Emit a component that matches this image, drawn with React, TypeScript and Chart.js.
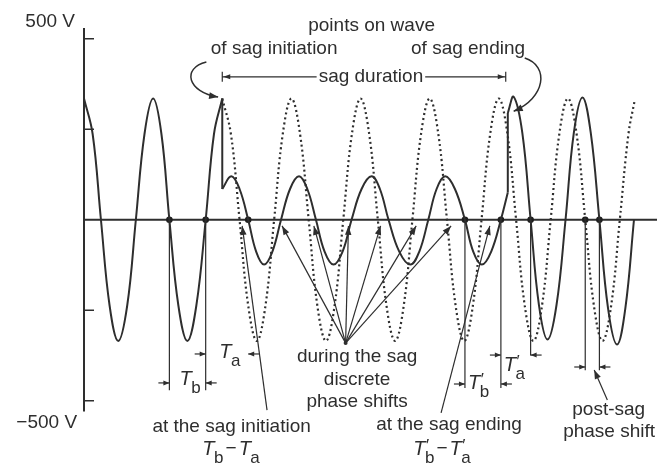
import { useEffect, useRef } from "react";
import { Chart, registerables } from "chart.js";

Chart.register(...registerables);

const INK = "#2e2e2e";
const FONT = "'Liberation Sans', Arial, Helvetica, sans-serif";

// Time axis in ms (one 50 Hz cycle = 20 ms), voltage in V.
// Each waveform is sampled at its peaks, zero crossings, troughs and the
// points half-way between them.

// Supply voltage before the sag.
const preSagTimes = [0, 2.5, 4.9, 7.4, 9.9, 12.5, 15.0, 17.5, 20.0, 22.4, 24.7, 27.3, 29.9, 32.5, 35.2, 37.6, 40.0];
const preSagVolts = [335, 237, 0, -237, -335, -237, 0, 237, 335, 237, 0, -237, -335, -237, 0, 237, 335];

// Reduced voltage during the sag.
const sagTimes = [
  40.0, 42.6, 45.0, 47.5, 49.8, 52.1, 54.5, 57.0, 59.6, 62.2, 64.6, 67.1, 69.6, 72.2, 74.8, 77.4,
  80.3, 83.2, 85.6, 88.1, 91.2, 94.4, 97.0, 99.6, 102.0, 104.5, 107.3, 110.2, 112.6, 115.1, 117.8, 120.6, 122.6,
];
const sagVolts = [
  85, 120, 85, 0, -88, -124, -88, 0, 85, 120, 85, 0, -88, -124, -88, 0,
  85, 120, 85, 0, -88, -124, -88, 0, 85, 120, 85, 0, -88, -124, -88, 0, 75,
];

// Recovered voltage after the sag.
const postSagTimes = [122.6, 124.3, 126.8, 129.2, 131.6, 134.1, 136.7, 139.3, 141.7, 144.2, 146.6, 149.1, 151.6, 154.2, 156.6, 159.1];
const postSagVolts = [295, 340, 240, 0, -235, -331, -235, 0, 240, 338, 240, 0, -245, -345, -245, 0];

// Undisturbed wave continued through and after the sag (dotted).
const refTimes = [
  40, 42.5, 45, 47.5, 50, 52.5, 55, 57.5, 60, 62.5, 65, 67.5, 70, 72.5, 75, 77.5, 80, 82.5, 85, 87.5, 90, 92.5, 95, 97.5,
  100, 102.5, 105, 107.5, 110, 112.5, 115, 117.5, 120, 122.5, 125, 127.5, 130, 132.5, 135, 137.5, 140, 142.5, 145, 147.5,
  150, 152.5, 155, 157.5, 159.2,
];
const refVolts = [
  335, 237, 0, -237, -335, -237, 0, 237, 335, 237, 0, -237, -335, -237, 0, 237, 335, 237, 0, -237, -335, -237, 0, 237,
  335, 237, 0, -237, -335, -237, 0, 237, 335, 237, 0, -237, -335, -237, 0, 237, 335, 237, 0, -237,
  -335, -237, 0, 237, 325,
];

// Abrupt voltage steps at sag initiation and sag ending.
const stepTimes = [40.0, 122.6];
const stepFrom = [335, 75];
const stepTo = [85, 295];

// Zero crossings marked on the time axis.
const markedCrossings = [24.7, 35.2, 47.5, 110.2, 120.6, 129.2, 145.0, 149.1];

// Vertical axis ticks.
const yTicks = [500, 250, -250, -500];
const yTickLabels = ["500 V", "\u2212500 V"];

// Zero crossings pointed at as discrete phase shifts during the sag.
const phaseShiftTargets = [57.3, 66.5, 76.5, 85.8, 96.1, 106.2];

const toPoints = (ts: number[], vs: number[]) => ts.map((t, i) => ({ x: t, y: vs[i] }));

function arrowHead(ctx: CanvasRenderingContext2D, fx: number, fy: number, tx: number, ty: number, len = 8, half = 3) {
  const a = Math.atan2(ty - fy, tx - fx);
  const c = Math.cos(a);
  const s = Math.sin(a);
  ctx.beginPath();
  ctx.moveTo(tx, ty);
  ctx.lineTo(tx - len * c + half * s, ty - len * s - half * c);
  ctx.lineTo(tx - len * c - half * s, ty - len * s + half * c);
  ctx.closePath();
  ctx.fill();
}

function tSymbol(ctx: CanvasRenderingContext2D, px: number, py: number, sub: string, prime: boolean) {
  ctx.textAlign = "left";
  ctx.font = `italic 20px ${FONT}`;
  ctx.fillText("T", px, py);
  const sx = px + ctx.measureText("T").width - 0.5;
  ctx.font = `17px ${FONT}`;
  if (prime) ctx.fillText("\u2032", sx + 1, py - 4);
  ctx.fillText(sub, sx, py + 8);
  return sx + ctx.measureText(sub).width;
}

function tDifference(ctx: CanvasRenderingContext2D, px: number, py: number, prime: boolean) {
  let end = tSymbol(ctx, px, py, "b", prime);
  ctx.font = `19px ${FONT}`;
  ctx.textAlign = "left";
  ctx.fillText("\u2212", end + 2, py - 1);
  end += 4 + ctx.measureText("\u2212").width;
  tSymbol(ctx, end, py, "a", prime);
}

const sagAnnotations = {
  id: "sagAnnotations",
  beforeDatasetsDraw(chart: any) {
    const { ctx, chartArea: area, scales } = chart;
    const x = scales.x;
    const y = scales.y;
    ctx.save();
    ctx.strokeStyle = INK;
    ctx.lineWidth = 2;
    const x0 = x.getPixelForValue(0);
    const y0 = y.getPixelForValue(0);
    ctx.beginPath();
    ctx.moveTo(x0, area.top);
    ctx.lineTo(x0, area.bottom);
    ctx.moveTo(area.left, y0);
    ctx.lineTo(area.right, y0);
    ctx.stroke();
    ctx.lineWidth = 1.5;
    ctx.beginPath();
    for (const v of yTicks) {
      const py = y.getPixelForValue(v);
      ctx.moveTo(x0, py);
      ctx.lineTo(x0 + 10, py);
    }
    ctx.stroke();
    ctx.restore();
  },
  afterDatasetsDraw(chart: any) {
    const { ctx, scales } = chart;
    const x = scales.x;
    const y = scales.y;
    const X = (t: number) => x.getPixelForValue(t);
    const Y = (v: number) => y.getPixelForValue(v);
    ctx.save();
    ctx.fillStyle = INK;
    ctx.strokeStyle = INK;
    ctx.textBaseline = "alphabetic";

    const text = (s: string, t: number, v: number, align: CanvasTextAlign = "center") => {
      ctx.font = `19px ${FONT}`;
      ctx.textAlign = align;
      ctx.fillText(s, X(t), Y(v));
    };

    // Axis end labels
    text(yTickLabels[0], -2.6, 533, "right");
    text(yTickLabels[1], -2.0, -576, "right");

    // Headings
    text("points on wave", 83.2, 523);
    text("of sag initiation", 55.0, 458);
    text("of sag ending", 111.1, 458);

    // Sag duration bar
    ctx.font = `19px ${FONT}`;
    const durLabel = "sag duration";
    const durW = ctx.measureText(durLabel).width;
    const durMid = X(83.0);
    const barY = Y(395);
    const bx0 = X(stepTimes[0]);
    const bx1 = X(122.0);
    text(durLabel, 83.0, 382);
    ctx.lineWidth = 1.2;
    ctx.beginPath();
    ctx.moveTo(bx0, barY);
    ctx.lineTo(durMid - durW / 2 - 2, barY);
    ctx.moveTo(durMid + durW / 2 + 2, barY);
    ctx.lineTo(bx1, barY);
    ctx.moveTo(bx0, barY - 5);
    ctx.lineTo(bx0, barY + 5);
    ctx.moveTo(bx1, barY - 5);
    ctx.lineTo(bx1, barY + 5);
    ctx.stroke();
    arrowHead(ctx, bx0 + 10, barY, bx0 + 1, barY, 7, 2.5);
    arrowHead(ctx, bx1 - 10, barY, bx1 - 1, barY, 7, 2.5);

    // Curved pointers to the points on wave
    const curve = (p: number[][]) => {
      ctx.lineWidth = 1.5;
      ctx.beginPath();
      ctx.moveTo(X(p[0][0]), Y(p[0][1]));
      ctx.bezierCurveTo(X(p[1][0]), Y(p[1][1]), X(p[2][0]), Y(p[2][1]), X(p[3][0]), Y(p[3][1]));
      ctx.stroke();
      arrowHead(ctx, X(p[2][0]), Y(p[2][1]), X(p[3][0]), Y(p[3][1]), 9, 3.5);
    };
    curve([[35.4, 436], [28.2, 419], [29.9, 353], [38.8, 339]]);
    curve([[127.5, 447], [134.7, 425], [133.5, 336], [124.3, 300]]);

    // Reference lines dropped from marked zero crossings
    const drops: [number, number][] = [
      [markedCrossings[0], -471],
      [markedCrossings[1], -471],
      [markedCrossings[3], -465],
      [markedCrossings[4], -465],
      [markedCrossings[5], -375],
      [markedCrossings[6], -416],
      [markedCrossings[7], -416],
    ];
    ctx.lineWidth = 1.2;
    ctx.beginPath();
    for (const [t, v] of drops) {
      ctx.moveTo(X(t), Y(0));
      ctx.lineTo(X(t), Y(v));
    }
    ctx.stroke();

    // Dimension arrows: [tip time, level, direction (+1 points right)]
    const dims: [number, number, number][] = [
      [markedCrossings[0], -451, 1],
      [markedCrossings[1], -451, -1],
      [markedCrossings[1], -371, 1],
      [markedCrossings[2], -371, -1],
      [markedCrossings[3], -454, 1],
      [markedCrossings[4], -454, -1],
      [markedCrossings[4], -374, 1],
      [markedCrossings[5], -374, -1],
      [markedCrossings[6], -407, 1],
      [markedCrossings[7], -407, -1],
    ];
    for (const [t, v, dir] of dims) {
      const tx = X(t);
      const ty = Y(v);
      const fx = tx - dir * 11;
      ctx.beginPath();
      ctx.moveTo(fx, ty);
      ctx.lineTo(tx, ty);
      ctx.stroke();
      arrowHead(ctx, fx, ty, tx, ty, 6, 2.5);
    }

    // Leader lines
    const leader = (ft: number, fv: number, tt: number, tv: number) => {
      ctx.lineWidth = 1.2;
      ctx.beginPath();
      ctx.moveTo(X(ft), Y(fv));
      ctx.lineTo(X(tt), Y(tv));
      ctx.stroke();
      arrowHead(ctx, X(ft), Y(fv), X(tt), Y(tv), 9, 3.2);
    };
    leader(52.95, -526, 45.76, -17);
    leader(103.3, -534, 117.4, -17);
    for (const t of phaseShiftTargets) leader(75.68, -341, t, -17);
    ctx.beginPath();
    ctx.arc(X(75.68), Y(-341), 2, 0, Math.PI * 2);
    ctx.fill();
    leader(151.4, -498, 147.6, -415);

    // Period symbols
    tSymbol(ctx, X(39.14), Y(-382), "a", false);
    tSymbol(ctx, X(27.63), Y(-457), "b", false);
    tSymbol(ctx, X(111.08), Y(-468), "b", true);
    tSymbol(ctx, X(121.44), Y(-418), "a", true);

    // Lower captions
    text("at the sag initiation", 42.7, -587);
    tDifference(ctx, X(34.24), Y(-650), false);
    text("during the sag", 79.0, -393);
    text("discrete", 79.0, -457);
    text("phase shifts", 79.0, -518);
    text("at the sag ending", 105.6, -581);
    tDifference(ctx, X(95.25), Y(-650), true);
    text("post-sag", 151.8, -540);
    text("phase shift", 151.9, -600);

    ctx.restore();
  },
};

export default function App() {
  const canvasRef = useRef<HTMLCanvasElement>(null);

  useEffect(() => {
    const canvas = canvasRef.current;
    if (!canvas) return;
    const solid = { borderColor: INK, borderWidth: 2, pointRadius: 0, tension: 0.4, fill: false };
    const steps = stepTimes.map((t, i) => ({
      data: [
        { x: t, y: stepFrom[i] },
        { x: t, y: stepTo[i] },
      ],
      borderColor: INK,
      borderWidth: 2,
      pointRadius: 0,
      tension: 0,
    }));
    const chart = new Chart(canvas, {
      type: "line",
      data: {
        datasets: [
          { ...solid, data: toPoints(refTimes, refVolts), borderDash: [2, 3], borderWidth: 2.2 },
          { ...solid, data: toPoints(preSagTimes, preSagVolts) },
          { ...solid, data: toPoints(sagTimes, sagVolts) },
          { ...solid, data: toPoints(postSagTimes, postSagVolts) },
          ...steps,
          {
            data: markedCrossings.map((t) => ({ x: t, y: 0 })),
            showLine: false,
            pointRadius: 3.3,
            pointBorderWidth: 0,
            pointBackgroundColor: "#1e1e1e",
          },
        ] as any,
      },
      options: {
        responsive: false,
        animation: false,
        devicePixelRatio: 1,
        events: [],
        layout: { padding: { left: 84, right: 1, top: 28, bottom: 54.5 } },
        scales: {
          x: { type: "linear", min: 0, max: 165.76, display: false },
          y: { type: "linear", min: -530, max: 530, display: false },
        },
        plugins: { legend: { display: false }, tooltip: { enabled: false } },
      },
      plugins: [sagAnnotations],
    });
    return () => chart.destroy();
  }, []);

  return (
    <div style={{ position: "fixed", left: 0, top: 0, width: 661, height: 466, background: "#fff" }}>
      <canvas ref={canvasRef} width={661} height={466} style={{ display: "block" }} />
    </div>
  );
}
